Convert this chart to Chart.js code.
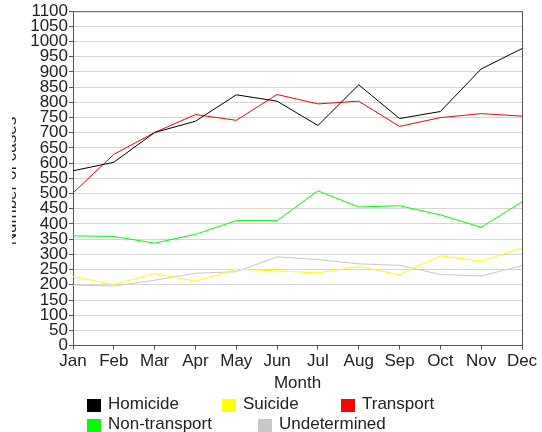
<!DOCTYPE html>
<html>
<head>
<meta charset="utf-8">
<script src="https://cdn.jsdelivr.net/npm/chart.js@4/dist/chart.umd.min.js"></script>
<style>
  html, body { margin: 0; padding: 0; background: #fff; }
  #wrap { position: relative; width: 542px; height: 432px; overflow: hidden; }
  #c { position: absolute; left: 0; top: 0; }
  .lg { position: absolute; display: flex; align-items: center; font: 17px "Liberation Sans", Arial, sans-serif; line-height: 14px; color: #222; white-space: nowrap; height: 14px; }
  .lg span.box { display: inline-block; width: 14px; height: 13px; margin-right: 7px; position: relative; top: 1.5px; }
</style>
</head>
<body>
<div id="wrap">
  <canvas id="c" width="542" height="432"></canvas>
  <div id="legend"></div>
</div>
<script>
const months = ["Jan","Feb","Mar","Apr","May","Jun","Jul","Aug","Sep","Oct","Nov","Dec"];
const seriesNames = ["Homicide","Suicide","Transport","Non-transport","Undetermined"];
const homicide     = [575, 603, 701, 738, 825, 804, 724, 858, 747, 770, 910, 977];
const suicide      = [227, 201, 237, 212, 251, 246, 239, 260, 233, 295, 278, 321];
const transport    = [502, 629, 701, 760, 741, 826, 795, 804, 721, 750, 763, 755];
const nonTransport = [361, 359, 337, 366, 411, 411, 509, 456, 460, 430, 389, 473];
const undetermined = [199, 196, 215, 238, 243, 292, 283, 269, 264, 234, 229, 263];
const yMin = 0, yMax = 1100, yStep = 50;
const xTitle = "Month";
const yTitle = "Number of cases";

const lineColors = ["#000000", "#ffff00", "#ff0000", "#00ff00", "#c8c8c8"];
const seriesValues = [homicide, suicide, transport, nonTransport, undetermined];
const FONT = '"Liberation Sans", Arial, sans-serif';

// legend entry placement (styling)
const legendPos = [[87,397],[222,397],[341,397],[87,417],[258,417]];
const lgEl = document.getElementById('legend');
seriesNames.forEach((n, i) => {
  const d = document.createElement('div');
  d.className = 'lg';
  d.style.left = legendPos[i][0] + 'px';
  d.style.top = legendPos[i][1] + 'px';
  const b = document.createElement('span');
  b.className = 'box';
  b.style.background = lineColors[i];
  d.appendChild(b);
  d.appendChild(document.createTextNode(n));
  lgEl.appendChild(d);
});

const frame = {
  id: 'frame',
  afterDraw(chart) {
    const {ctx, chartArea: a} = chart;
    ctx.save();
    ctx.strokeStyle = '#555';
    ctx.lineWidth = 1;
    ctx.beginPath();
    ctx.moveTo(a.left, a.top + 0.5);
    ctx.lineTo(a.right + 0.5, a.top + 0.5);
    ctx.lineTo(a.right + 0.5, a.bottom);
    ctx.stroke();
    // clipped y-axis title
    ctx.beginPath();
    ctx.rect(12, 0, 5, 432);
    ctx.clip();
    ctx.translate(15.5, 181);
    ctx.rotate(-Math.PI / 2);
    ctx.fillStyle = '#222';
    ctx.font = '17px ' + FONT;
    ctx.textAlign = 'center';
    ctx.textBaseline = 'alphabetic';
    ctx.fillText(yTitle, 0, 0);
    ctx.restore();
  }
};

new Chart(document.getElementById('c'), {
  type: 'line',
  data: {
    labels: months,
    datasets: seriesNames.map((n, i) => ({
      label: n,
      data: seriesValues[i],
      borderColor: lineColors[i],
      backgroundColor: lineColors[i],
      borderWidth: 1,
      pointRadius: 0,
      tension: 0,
      fill: false
    }))
  },
  options: {
    responsive: false,
    animation: false,
    layout: { padding: { left: 0, right: 20, top: 10, bottom: 40 } },
    plugins: { legend: { display: false }, tooltip: { enabled: false } },
    scales: {
      x: {
        offset: false,
        grid: { drawOnChartArea: false, drawTicks: true, tickLength: 4, tickColor: '#555' },
        border: { color: '#555' },
        ticks: { font: { family: FONT, size: 17 }, color: '#222', padding: 2, maxRotation: 0, autoSkip: false },
        title: { display: true, text: xTitle, font: { family: FONT, size: 17, lineHeight: 1 }, color: '#222', padding: { top: 1, bottom: 0 } }
      },
      y: {
        min: yMin, max: yMax,
        afterFit(s) { s.width = 73; },
        grid: { color: '#d6d6d6', lineWidth: 1, tickLength: 4, tickColor: '#555' },
        border: { color: '#555' },
        ticks: { stepSize: yStep, autoSkip: false, font: { family: FONT, size: 17 }, color: '#222', padding: 1, callback: v => String(v) }
      }
    }
  },
  plugins: [frame]
});
</script>
</body>
</html>
